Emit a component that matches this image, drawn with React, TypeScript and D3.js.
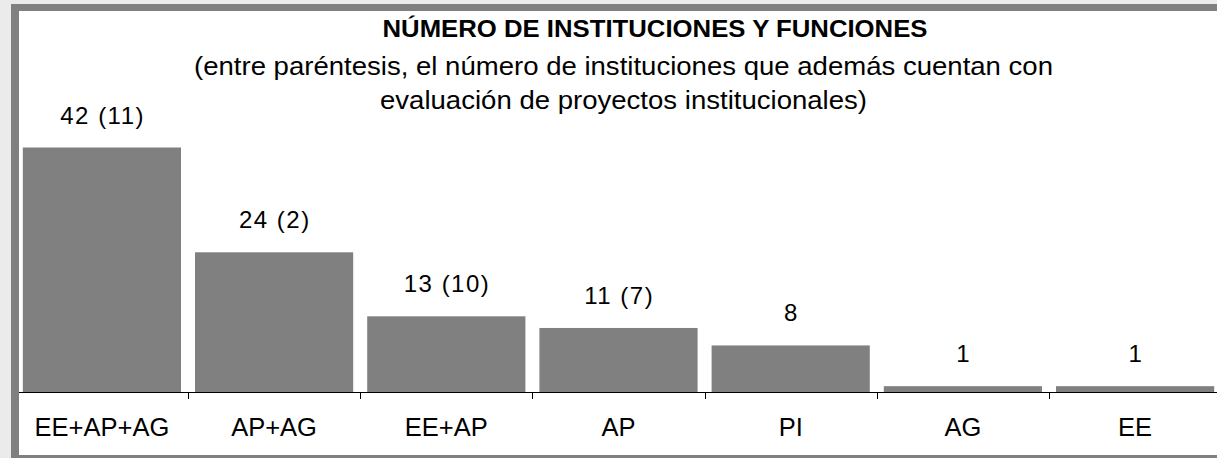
import React from "react";
import * as d3 from "d3";

const categories: string[] = ["EE+AP+AG", "AP+AG", "EE+AP", "AP", "PI", "AG", "EE"];
const totals: number[] = [42, 24, 13, 11, 8, 1, 1];
const withEvaluation: (number | null)[] = [11, 2, 10, 7, null, null, null];
const titleText = "NÚMERO DE INSTITUCIONES Y FUNCIONES";
const subtitleLines: string[] = [
  "(entre paréntesis, el número de instituciones que además cuentan con",
  "evaluación de proyectos institucionales)",
];

const W = 1217;
const H = 458;
const FONT = "'Liberation Sans', Arial, Helvetica, sans-serif";

export default function App() {
  const x = d3
    .scaleBand<string>()
    .domain(categories)
    .range([15.8, 15.8 + 7 * 172.2])
    .paddingInner(0.0813)
    .paddingOuter(0.0813 / 2);
  const y = d3.scaleLinear().domain([0, 42]).range([392, 147.5]);
  const step = x.step();
  const gap = step * 0.0813;

  const labels = totals.map((v, i) =>
    withEvaluation[i] != null ? `${v} (${withEvaluation[i]})` : `${v}`
  );

  return (
    <svg
      width={W}
      height={H}
      style={{ position: "absolute", left: 0, top: 0, display: "block" }}
    >
      <rect x={0} y={0} width={W} height={H} fill="#ebebeb" />
      <rect x={11} y={4} width={W + 20} height={H + 20} fill="#808080" />
      <rect x={19} y={11} width={W + 20} height={444} fill="#ffffff" />

      <text
        x={655}
        y={37}
        textAnchor="middle"
        fontFamily={FONT}
        fontWeight="bold"
        fontSize={23}
        textLength={545}
        lengthAdjust="spacingAndGlyphs"
        fill="#000"
      >
        {titleText}
      </text>
      {subtitleLines.map((line, i) => (
        <text
          key={i}
          x={623.5}
          y={75 + i * 34}
          textAnchor="middle"
          fontFamily={FONT}
          fontSize={25}
          textLength={i === 0 ? 859 : 487}
          lengthAdjust="spacingAndGlyphs"
          fill="#000"
        >
          {line}
        </text>
      ))}

      {categories.map((c, i) => (
        <rect
          key={c}
          x={x(c)!}
          y={y(totals[i])}
          width={x.bandwidth()}
          height={y(0) - y(totals[i])}
          fill="#808080"
        />
      ))}

      <line x1={19} x2={W} y1={392.5} y2={392.5} stroke="#000" strokeWidth={1} />
      {categories.slice(1).map((c) => {
        const tx = Math.round(x(c)! - gap / 2) + 0.5;
        return (
          <line key={"t" + c} x1={tx} x2={tx} y1={392} y2={399} stroke="#000" strokeWidth={1} />
        );
      })}

      {categories.map((c, i) => (
        <text
          key={"l" + c}
          x={x(c)! + x.bandwidth() / 2 + 0.75}
          y={y(totals[i]) - 24}
          textAnchor="middle"
          fontFamily={FONT}
          fontSize={24}
          letterSpacing={1.5}
          fill="#000"
        >
          {labels[i]}
        </text>
      ))}

      {categories.map((c) => (
        <text
          key={"c" + c}
          x={x(c)! + x.bandwidth() / 2}
          y={436}
          textAnchor="middle"
          fontFamily={FONT}
          fontSize={25.5}
          fill="#000"
        >
          {c}
        </text>
      ))}
    </svg>
  );
}
